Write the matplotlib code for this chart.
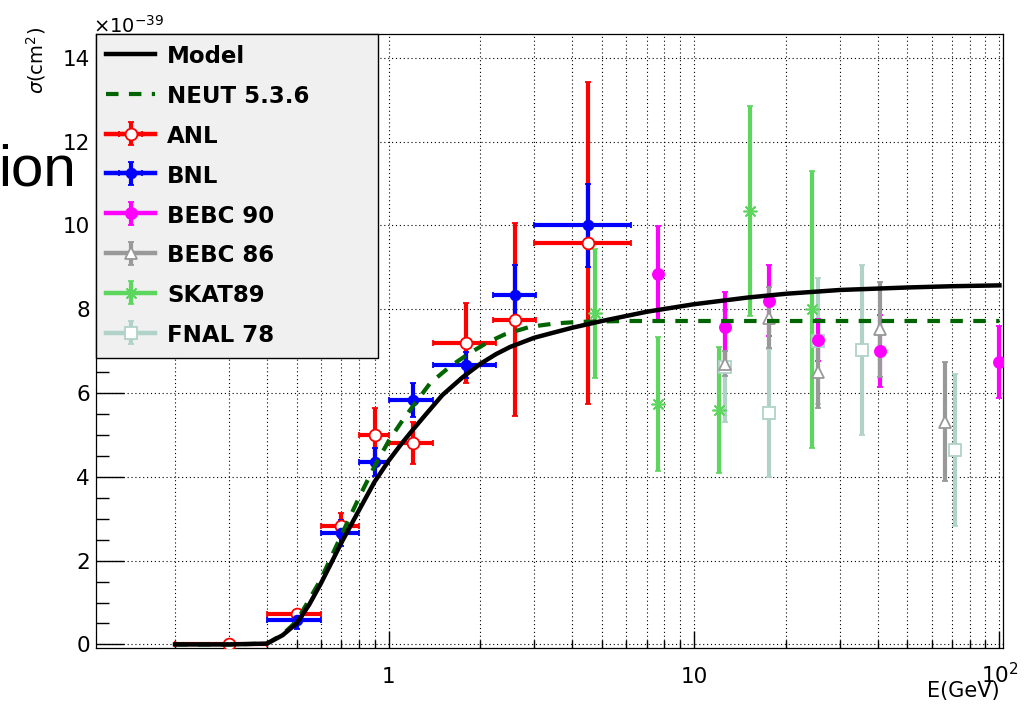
import numpy as np
import matplotlib
matplotlib.use('Agg')
import matplotlib.pyplot as plt
from matplotlib.lines import Line2D
from matplotlib.ticker import LogLocator, NullFormatter, MultipleLocator

# model curves (sigma in 1e-39 cm^2 vs E in GeV)
model_e = [0.2, 0.3, 0.4, 0.45, 0.5, 0.55, 0.6, 0.65, 0.7, 0.8, 0.9, 1.0, 1.1, 1.2,
           1.3, 1.5, 1.75, 2.0, 2.25, 2.5, 3.0, 3.5, 4.0, 5.0, 7.0, 10, 15, 20, 30,
           50, 70, 100]
model_xs = [0.0, 0.0, 0.02, 0.22, 0.5, 0.95, 1.45, 1.95, 2.42, 3.2, 3.88, 4.38, 4.78,
            5.12, 5.42, 5.95, 6.38, 6.7, 6.93, 7.1, 7.32, 7.45, 7.56, 7.72, 7.94, 8.12,
            8.28, 8.37, 8.46, 8.52, 8.55, 8.57]
neut_e = [0.2, 0.3, 0.4, 0.45, 0.5, 0.6, 0.7, 0.8, 0.9, 1.0, 1.1, 1.2, 1.37, 1.6,
          1.85, 2.1, 2.4, 2.9, 3.5, 4.2, 6, 10, 30, 100]
neut_xs = [0.0, 0.0, 0.02, 0.24, 0.55, 1.55, 2.6, 3.5, 4.25, 4.85, 5.3, 5.68, 6.24, 6.65,
           6.96, 7.2, 7.4, 7.58, 7.66, 7.7, 7.72, 7.72, 7.72, 7.72]

# ANL
anl_e = [0.3, 0.5, 0.7, 0.9, 1.2, 1.8, 2.6, 4.5]
anl_elo = [0.2, 0.4, 0.6, 0.8, 1.0, 1.4, 2.2, 3.0]
anl_ehi = [0.4, 0.6, 0.8, 1.0, 1.4, 2.25, 3.05, 6.2]
anl_xs = [0.0, 0.73, 2.83, 5.0, 4.81, 7.19, 7.75, 9.58]
anl_err = [0.05, 0.1, 0.3, 0.64, 0.5, 0.95, 2.3, 3.85]

# BNL
bnl_e = [0.5, 0.7, 0.9, 1.2, 1.8, 2.6, 4.5]
bnl_elo = [0.4, 0.6, 0.8, 1.0, 1.4, 2.2, 3.0]
bnl_ehi = [0.6, 0.8, 1.0, 1.4, 2.25, 3.05, 6.2]
bnl_xs = [0.58, 2.66, 4.36, 5.83, 6.67, 8.34, 10.0]
bnl_err = [0.2, 0.3, 0.33, 0.4, 0.3, 0.72, 1.0]

# BEBC 90
bebc90_e = [7.6, 12.6, 17.6, 25.4, 40.5, 100]
bebc90_xs = [8.84, 7.58, 8.2, 7.27, 7.0, 6.74]
bebc90_err = [1.15, 0.84, 0.85, 0.5, 0.86, 0.86]

# BEBC 86
bebc86_e = [12.6, 17.6, 25.4, 40.5, 66.4]
bebc86_xs = [6.7, 7.8, 6.5, 7.52, 5.32]
bebc86_err = [0.3, 0.72, 0.85, 1.13, 1.42]

# SKAT 89
skat_e = [4.73, 7.6, 12.1, 15.2, 24.3]
skat_xs = [7.9, 5.74, 5.6, 10.35, 8.0]
skat_err = [1.55, 1.6, 1.5, 2.5, 3.3]

# FNAL 78
fnal_e = [12.6, 17.6, 25.4, 35.4, 71.6]
fnal_xs = [6.63, 5.53, 7.25, 7.03, 4.64]
fnal_err = [1.33, 1.53, 1.5, 2.03, 1.82]

c_anl = '#ff0000'
c_bnl = '#0000ff'
c_b90 = '#ff00ff'
c_b86 = '#999999'
c_skat = '#5cd65c'
c_fnal = '#b0d2c8'
c_neut = '#006400'

fig = plt.figure(figsize=(10.25, 7.07), dpi=100)
ax = fig.add_axes([0.09337, 0.08345, 0.88488, 0.86846])


def draw(e, xs, err, color, marker, ms, mfc, xerr=None, mew=1.3):
    return ax.errorbar(e, xs, yerr=err, xerr=xerr, ls='none', marker=marker,
                       color=color, ms=ms, mfc=mfc, mec=color, mew=mew, elinewidth=3,
                       capsize=2, capthick=2.5, zorder=3)


eb_fnal = draw(fnal_e, fnal_xs, fnal_err, c_fnal, 's', 9, 'white')
eb_skat = draw(skat_e, skat_xs, skat_err, c_skat, (8, 2, 0), 10, c_skat, mew=1.2)
eb_b90 = draw(bebc90_e, bebc90_xs, bebc90_err, c_b90, 'o', 8, c_b90)
eb_b86 = draw(bebc86_e, bebc86_xs, bebc86_err, c_b86, '^', 9, 'white')
anl_xerr = [np.subtract(anl_e, anl_elo), np.subtract(anl_ehi, anl_e)]
eb_anl = draw(anl_e, anl_xs, anl_err, c_anl, 'o', 8.5, 'white', xerr=anl_xerr)
bnl_xerr = [np.subtract(bnl_e, bnl_elo), np.subtract(bnl_ehi, bnl_e)]
eb_bnl = draw(bnl_e, bnl_xs, bnl_err, c_bnl, 'o', 7, c_bnl, xerr=bnl_xerr)

neut_line, = ax.plot(neut_e, neut_xs, color=c_neut, lw=3, ls=(0, (3, 2.5)), zorder=4)
model_line, = ax.plot(model_e, model_xs, color='black', lw=3.2, zorder=5)

ax.set_xscale('log')
ax.set_xlim(0.11, 102.5)
ax.set_ylim(-0.085, 14.57)
ax.set_xticks([1, 10, 100], labels=['1', '10', '$10^{2}$'])
ax.xaxis.set_minor_locator(LogLocator(base=10, subs=np.arange(2, 10)))
ax.xaxis.set_minor_formatter(NullFormatter())
ax.set_yticks(np.arange(0, 15, 2))
ax.yaxis.set_minor_locator(MultipleLocator(0.5))

ax.tick_params(axis='x', which='major', direction='in', length=12, width=1, pad=25,
               labelsize=15.5)
ax.tick_params(axis='x', which='minor', direction='in', length=6, width=1)
ax.tick_params(axis='y', which='major', direction='in', length=20, width=1, pad=4,
               labelsize=15.5)
ax.tick_params(axis='y', which='minor', direction='in', length=9.5, width=1)
plt.setp(ax.get_xticklabels(), va='baseline')

ax.set_axisbelow(True)
ax.grid(which='major', axis='both', color='black', ls=(0, (1, 2.5)), lw=0.8)
ax.grid(which='minor', axis='x', color='black', ls=(0, (1, 2.5)), lw=0.8)
for sp in ax.spines.values():
    sp.set_linewidth(0.9)


def hline(c):
    return Line2D([], [], color=c, lw=3.2)


handles = [model_line, neut_line,
           (hline(c_anl), eb_anl), (hline(c_bnl), eb_bnl),
           (hline(c_b90), eb_b90), (hline(c_b86), eb_b86),
           (hline(c_skat), eb_skat), (hline(c_fnal), eb_fnal)]
labels = ['Model', 'NEUT 5.3.6', 'ANL', 'BNL', 'BEBC 90', 'BEBC 86', 'SKAT89', 'FNAL 78']
leg = ax.legend(handles, labels, loc='upper left', mode='expand',
                bbox_to_anchor=(0, 1 - 0.5635, 0.311, 0.5635), borderaxespad=0,
                numpoints=1, handlelength=2.13, handleheight=1.1, handletextpad=0.52,
                labelspacing=0.7, borderpad=0.46, fancybox=False,
                prop=dict(family='DejaVu Sans', weight='bold', size=16.5))
leg.get_frame().set_facecolor('#f0f0f0')
leg.get_frame().set_edgecolor('black')
leg.get_frame().set_linewidth(1.0)
leg.get_frame().set_alpha(1)
leg.set_zorder(10)

fig.text(36 / 1025, 1 - 27 / 707, r'$\sigma$(cm$^{2}$)', rotation=90, ha='center',
         va='top', fontsize=14)
fig.text(93 / 1025, 1 - 33 / 707, r'$\times10^{-39}$', ha='left', va='baseline',
         fontsize=14)
fig.text(1000 / 1025, 1 - 697 / 707, 'E(GeV)', ha='right', va='baseline', fontsize=15)
fig.text(76 / 1025, 1 - 185 / 707, 'ion', ha='right', va='baseline', fontsize=42,
         family='Liberation Sans')

fig.savefig('out.png', dpi=100)
